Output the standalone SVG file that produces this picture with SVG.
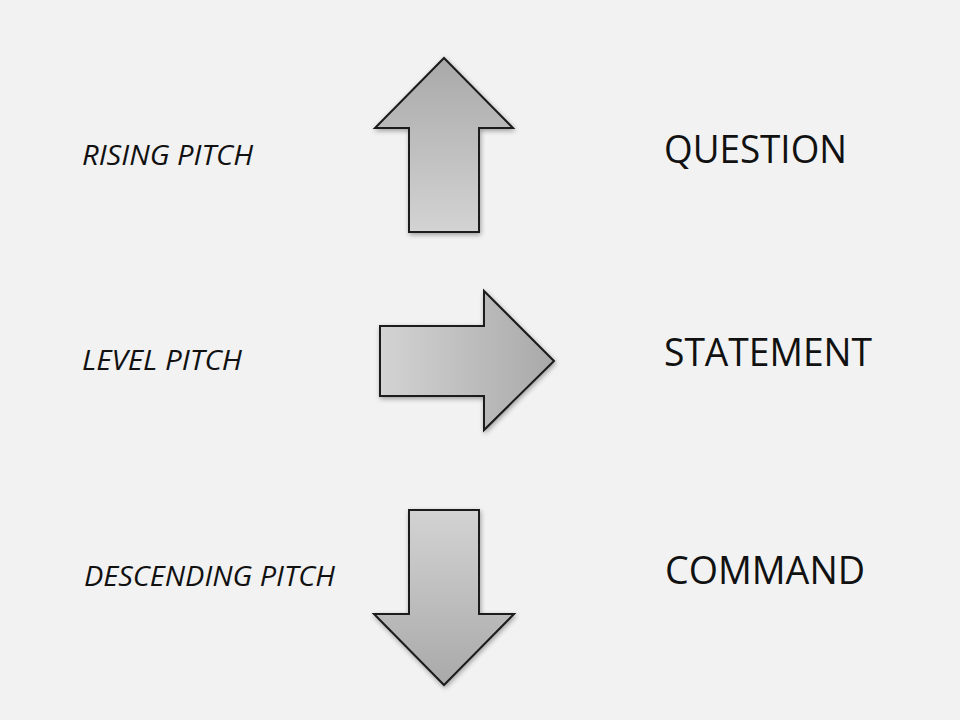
<svg xmlns="http://www.w3.org/2000/svg" width="960" height="720" viewBox="0 0 960 720">
<defs>
<linearGradient id="gUp" x1="0" y1="0" x2="0" y2="1">
<stop offset="0" stop-color="#a9a9a9"/>
<stop offset="1" stop-color="#d3d3d3"/>
</linearGradient>
<linearGradient id="gRight" x1="0" y1="0" x2="1" y2="0">
<stop offset="0" stop-color="#d3d3d3"/>
<stop offset="1" stop-color="#a9a9a9"/>
</linearGradient>
<linearGradient id="gDown" x1="0" y1="0" x2="0" y2="1">
<stop offset="0" stop-color="#d3d3d3"/>
<stop offset="1" stop-color="#a9a9a9"/>
</linearGradient>
<filter id="sh" x="-20%" y="-20%" width="140%" height="140%">
<feGaussianBlur in="SourceAlpha" stdDeviation="2.5"/>
<feOffset dx="1" dy="2" result="b"/>
<feComponentTransfer><feFuncA type="linear" slope="0.35"/></feComponentTransfer>
<feMerge><feMergeNode/><feMergeNode in="SourceGraphic"/></feMerge>
</filter>
</defs>
<style>
.arrow{stroke:#1a1a1a;stroke-width:2;stroke-linejoin:miter;filter:url(#sh)}
.lbl{font-family:"Open Sans","Noto Sans",sans-serif;font-style:italic;font-size:28px;fill:#111}
.res{font-family:"Open Sans","Noto Sans",sans-serif;font-size:39px;fill:#111}
</style>
<rect width="960" height="720" fill="#f2f2f2"/>
<g id="connectors">
<g id="arrow-up"><polygon class="arrow" fill="url(#gUp)" points="444,58 513,128 479,128 479,232 409,232 409,128 375,128"/></g>
<g id="arrow-right"><polygon class="arrow" fill="url(#gRight)" points="554,361 484,291 484,326 380,326 380,396 484,396 484,430"/></g>
<g id="arrow-down"><polygon class="arrow" fill="url(#gDown)" points="444,685 514,614 479,614 479,510 409,510 409,614 374,614"/></g>
</g>
<g id="rising"><text class="lbl" x="82" y="165" textLength="171" lengthAdjust="spacingAndGlyphs">RISING PITCH</text></g>
<g id="level"><text class="lbl" x="82" y="370" textLength="160" lengthAdjust="spacingAndGlyphs">LEVEL PITCH</text></g>
<g id="descending"><text class="lbl" x="84" y="586" textLength="251" lengthAdjust="spacingAndGlyphs">DESCENDING PITCH</text></g>
<g id="question"><text class="res" x="664" y="163" textLength="183" lengthAdjust="spacingAndGlyphs">QUESTION</text></g>
<g id="statement"><text class="res" x="664" y="366" textLength="208" lengthAdjust="spacingAndGlyphs">STATEMENT</text></g>
<g id="command"><text class="res" x="665" y="584" textLength="200" lengthAdjust="spacingAndGlyphs">COMMAND</text></g>
</svg>
